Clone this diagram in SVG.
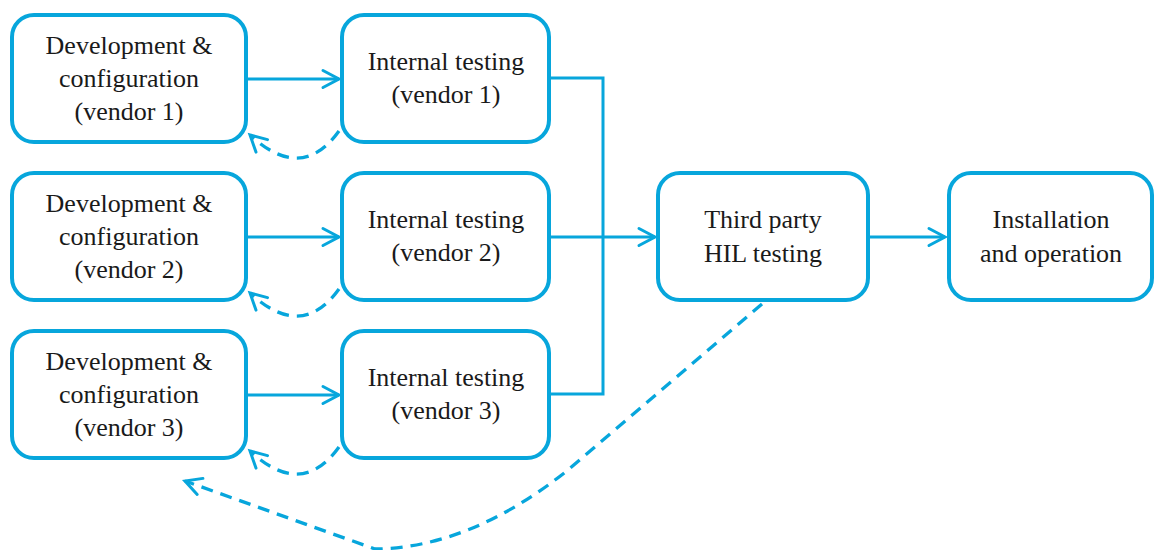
<svg xmlns="http://www.w3.org/2000/svg" width="1155" height="550" viewBox="0 0 1155 550">
  <style>
    .box { fill: #ffffff; stroke: #07a6dc; stroke-width: 4; }
    .lbl { font-family: "Liberation Serif", "Times New Roman", serif; font-size: 26px; fill: #1a1a1a; text-anchor: middle; }
    .link { fill: none; stroke: #07a6dc; stroke-width: 3; }
    .dash { fill: none; stroke: #07a6dc; stroke-width: 3.3; stroke-dasharray: 12 8; }
  </style>
  <defs>
    <marker id="chev" markerUnits="userSpaceOnUse" markerWidth="24" markerHeight="24" viewBox="-20 -12 24 24" refX="0" refY="0" orient="auto">
      <path d="M-16,-8.5 L0,0 L-16,8.5" fill="none" stroke="#07a6dc" stroke-width="3" stroke-linecap="round" stroke-linejoin="miter"/>
    </marker>
  </defs>

  <!-- connectors -->
  <g id="connectors">
    <!-- development to internal testing -->
    <line class="link" x1="248" y1="79" x2="339" y2="79" marker-end="url(#chev)"/>
    <line class="link" x1="248" y1="237" x2="339" y2="237" marker-end="url(#chev)"/>
    <line class="link" x1="248" y1="395" x2="339" y2="395" marker-end="url(#chev)"/>
    <!-- internal testing outputs merge into third party testing -->
    <polyline class="link" points="551,78 603,78 603,394 551,394"/>
    <line class="link" x1="551" y1="237" x2="655" y2="237" marker-end="url(#chev)"/>
    <!-- third party to installation -->
    <line class="link" x1="870" y1="237" x2="945" y2="237" marker-end="url(#chev)"/>
    <!-- feedback loops from internal testing -->
    <path class="dash" d="M339,131 C318,160 290,172 250,135" marker-end="url(#chev)"/>
    <path class="dash" d="M339,289 C318,318 290,330 250,293" marker-end="url(#chev)"/>
    <path class="dash" d="M339,447 C318,476 290,488 250,451" marker-end="url(#chev)"/>
    <!-- feedback from third party testing -->
    <path class="dash" d="M762,304 L568,470 Q470,548 375,549 L185,481" marker-end="url(#chev)"/>
  </g>

  <!-- vendor 1 -->
  <g id="dev1">
    <rect class="box" x="12" y="15" width="234" height="127" rx="22"/>
    <text class="lbl" x="129" y="54">Development &amp;</text>
    <text class="lbl" x="129" y="87">configuration</text>
    <text class="lbl" x="129" y="120">(vendor 1)</text>
  </g>
  <g id="test1">
    <rect class="box" x="342" y="15" width="207" height="127" rx="22"/>
    <text class="lbl" x="446" y="70">Internal testing</text>
    <text class="lbl" x="446" y="103">(vendor 1)</text>
  </g>

  <!-- vendor 2 -->
  <g id="dev2">
    <rect class="box" x="12" y="173" width="234" height="127" rx="22"/>
    <text class="lbl" x="129" y="212">Development &amp;</text>
    <text class="lbl" x="129" y="245">configuration</text>
    <text class="lbl" x="129" y="278">(vendor 2)</text>
  </g>
  <g id="test2">
    <rect class="box" x="342" y="173" width="207" height="127" rx="22"/>
    <text class="lbl" x="446" y="228">Internal testing</text>
    <text class="lbl" x="446" y="261">(vendor 2)</text>
  </g>

  <!-- vendor 3 -->
  <g id="dev3">
    <rect class="box" x="12" y="331" width="234" height="127" rx="22"/>
    <text class="lbl" x="129" y="370">Development &amp;</text>
    <text class="lbl" x="129" y="403">configuration</text>
    <text class="lbl" x="129" y="436">(vendor 3)</text>
  </g>
  <g id="test3">
    <rect class="box" x="342" y="331" width="207" height="127" rx="22"/>
    <text class="lbl" x="446" y="386">Internal testing</text>
    <text class="lbl" x="446" y="419">(vendor 3)</text>
  </g>

  <!-- shared stages -->
  <g id="hil">
    <rect class="box" x="658" y="173" width="210" height="127" rx="22"/>
    <text class="lbl" x="763" y="228">Third party</text>
    <text class="lbl" x="763" y="262">HIL testing</text>
  </g>
  <g id="install">
    <rect class="box" x="949" y="173" width="203" height="127" rx="22"/>
    <text class="lbl" x="1051" y="228">Installation</text>
    <text class="lbl" x="1051" y="262">and operation</text>
  </g>
</svg>
